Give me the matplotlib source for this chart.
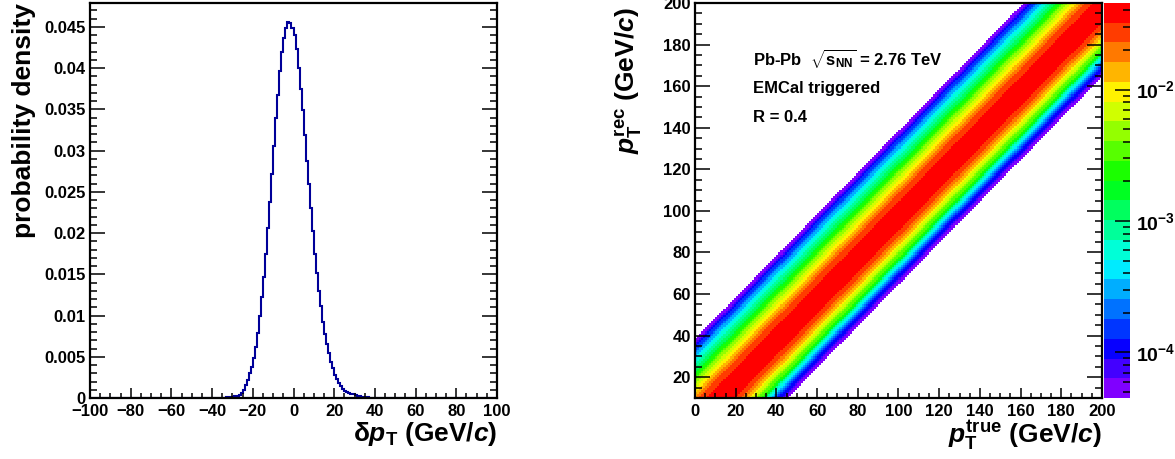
import numpy as np
import matplotlib
matplotlib.use("Agg")
import matplotlib.pyplot as plt
from matplotlib import colors, ticker

plt.rcParams['font.family'] = ['Liberation Sans', 'DejaVu Sans']
plt.rcParams['font.weight'] = 'bold'
plt.rcParams['mathtext.fontset'] = 'custom'
plt.rcParams['mathtext.rm'] = 'Liberation Sans:bold'
plt.rcParams['mathtext.bf'] = 'Liberation Sans:bold'
plt.rcParams['mathtext.it'] = 'Liberation Sans:bold:italic'
plt.rcParams['mathtext.sf'] = 'Liberation Sans:bold'

# delta pT probability density, 1 GeV/c bins, first bin starts at dpt_first
dpt_first = -36
dpt_density = [
    0.00003, 0.000046, 0.000055, 0.00007, 0.00009, 0.00011, 0.00015, 0.0002,
    0.00028, 0.0004, 0.0006, 0.0010, 0.0016, 0.0022, 0.0030, 0.0038,
    0.0049, 0.0062, 0.0079, 0.0099, 0.0122, 0.0147, 0.0175, 0.0206,
    0.0238, 0.0272, 0.0305, 0.0339, 0.0367, 0.0396, 0.0419, 0.0437,
    0.0449, 0.0456, 0.0455, 0.0449, 0.0440, 0.0423, 0.0400, 0.0375,
    0.0349, 0.0319, 0.0288, 0.0260, 0.0230, 0.0203, 0.0175, 0.0152,
    0.0130, 0.0111, 0.0092, 0.0078, 0.0065, 0.0054, 0.0044, 0.0036,
    0.0028, 0.0023, 0.0018, 0.0014, 0.0011, 0.0009, 0.00075, 0.00063,
    0.00052, 0.00043, 0.00035, 0.00028, 0.00022, 0.00017, 0.00013, 0.0001,
    0.00008, 0.00006, 0.000047,
]

# response matrix binning (GeV/c)
ptrue_edges = np.arange(0, 201)
prec_edges = np.arange(10, 201)
z_min, z_max = 4.5e-5, 0.0456
n_levels = 20

info_lines = ["EMCal triggered", "R = 0.4"]

# ---- 1D histogram on the full -100..100 range
edges = np.arange(-100, 101)
hist = np.zeros(len(edges) - 1)
i0 = dpt_first - edges[0]
hist[i0:i0 + len(dpt_density)] = dpt_density

# ---- response matrix: each true bin smeared by the delta pT density
tc = ptrue_edges[:-1]
rc = prec_edges[:-1]
shift = rc[:, None] - tc[None, :] - dpt_first
ok = (shift >= 0) & (shift < len(dpt_density))
resp = np.zeros(shift.shape)
resp[ok] = np.asarray(dpt_density)[shift[ok]]
resp = np.ma.masked_less(resp, z_min)

# ROOT-like rainbow palette, violet -> red
hues = np.linspace(270, 0, n_levels) / 360.0
pal = colors.ListedColormap(colors.hsv_to_rgb(np.c_[hues, np.ones(n_levels), np.ones(n_levels)]))
pal.set_bad('white')

W, H = 1175, 459
fig = plt.figure(figsize=(W / 100, H / 100), dpi=100)
ax1 = fig.add_axes([90 / W, 61 / H, 407 / W, 395 / H])
ax2 = fig.add_axes([695 / W, 61 / H, 407 / W, 395 / H])
cax = fig.add_axes([1104 / W, 61 / H, 26 / W, 395 / H])

def root_frame(ax):
    for s in ax.spines.values():
        s.set_linewidth(1.6)
    ax.tick_params(axis='x', which='both', direction='in', top=False, bottom=True,
                   labelsize=12, pad=4, width=1.1)
    ax.tick_params(axis='x', which='major', length=7.2)
    ax.tick_params(axis='x', which='minor', length=3.4)
    ax.tick_params(axis='y', which='both', direction='in', left=True, right=True,
                   labelsize=12, pad=3, width=1.1)
    ax.tick_params(axis='y', which='major', length=10.8)
    ax.tick_params(axis='y', which='minor', length=5.2)

# left: delta pT
ax1.stairs(hist, edges, color='#000099', lw=1.5)
ax1.set_xlim(-100, 100)
ax1.set_ylim(0, 0.0479)
ax1.xaxis.set_major_locator(ticker.MultipleLocator(20))
ax1.xaxis.set_minor_locator(ticker.MultipleLocator(5))
ax1.yaxis.set_major_locator(ticker.MultipleLocator(0.005))
ax1.yaxis.set_minor_locator(ticker.MultipleLocator(0.001))
ax1.yaxis.set_major_formatter(ticker.FuncFormatter(lambda v, p: '%g' % round(v, 4)))
root_frame(ax1)
ax1.text(1.0, -0.055, 'δ' + r'$\mathit{p}_{\mathrm{T}}$ (GeV/$\mathit{c}$)',
         transform=ax1.transAxes, ha='right', va='top', fontsize=19)
ax1.text(-0.162, 1.0, 'probability density', transform=ax1.transAxes,
         rotation=90, ha='center', va='top', fontsize=19)

# right: response matrix
norm = colors.LogNorm(vmin=z_min, vmax=z_max)
pcm = ax2.pcolormesh(ptrue_edges, prec_edges, resp, cmap=pal, norm=norm, shading='flat')
ax2.set_xlim(0, 200)
ax2.set_ylim(10, 200)
for a in (ax2.xaxis, ax2.yaxis):
    a.set_major_locator(ticker.MultipleLocator(20))
    a.set_minor_locator(ticker.MultipleLocator(5))
root_frame(ax2)
ax2.text(1.0, -0.05, r'$\mathit{p}_{\mathrm{T}}^{\mathrm{true}}$ (GeV/$\mathit{c}$)',
         transform=ax2.transAxes, ha='right', va='top', fontsize=19)
ax2.text(-0.16, 0.99, r'$\mathit{p}_{\mathrm{T}}^{\mathrm{rec}}$ (GeV/$\mathit{c}$)',
         transform=ax2.transAxes, rotation=90, ha='center', va='top', fontsize=19)

ax2.text(0.1425, 0.843, r'Pb-Pb  $\sqrt{\mathrm{s}_{\mathrm{NN}}}$ = 2.76 TeV',
         transform=ax2.transAxes, ha='left', va='baseline', fontsize=12)
for k, line in enumerate(info_lines):
    ax2.text(0.1425, 0.773 - 0.074 * k, line, transform=ax2.transAxes,
             ha='left', va='baseline', fontsize=12)

# colour scale
cb = fig.colorbar(pcm, cax=cax)
cb.outline.set_visible(False)
cax.yaxis.set_major_locator(ticker.FixedLocator([1e-4, 1e-3, 1e-2]))
cax.yaxis.set_major_formatter(ticker.LogFormatterMathtext())
cax.yaxis.set_minor_locator(ticker.LogLocator(subs=np.arange(2, 10)))
cax.yaxis.set_minor_formatter(ticker.NullFormatter())
cax.tick_params(which='both', direction='in', right=True, left=False,
                labelsize=14, pad=4, width=1.1)
cax.tick_params(which='major', length=10.8)
cax.tick_params(which='minor', length=5.2)

fig.savefig('out.png', dpi=100)
